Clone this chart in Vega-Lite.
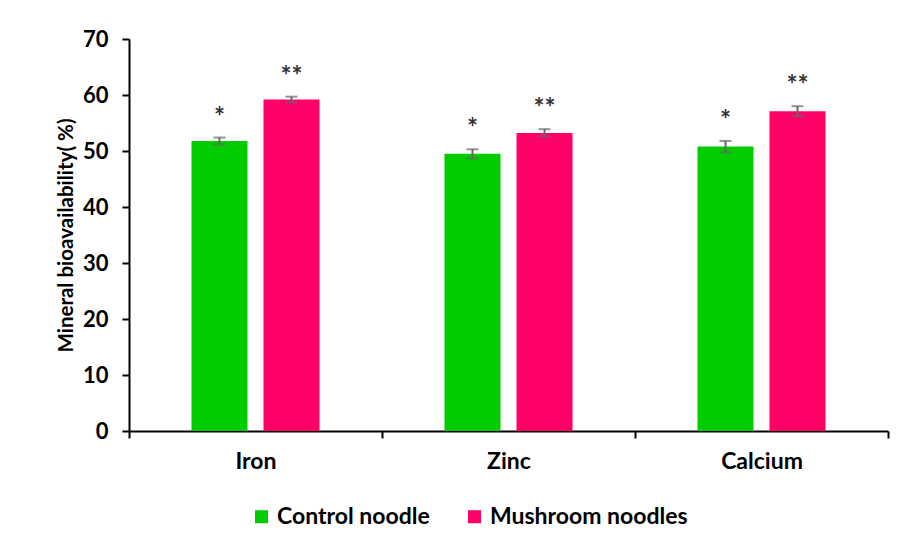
{
  "$schema": "https://vega.github.io/schema/vega-lite/v6.json",
  "width": 759,
  "height": 392,
  "autosize": {"type": "none"},
  "padding": {"left": 129, "top": 39, "right": 13, "bottom": 117},
  "background": "white",
  "config": {
    "font": "Lato",
    "view": {"stroke": null}
  },
  "data": {
    "values": [
      {"mineral": "Iron", "group": "Control noodle", "value": 51.8, "lo": 51.2, "hi": 52.4, "label": "*"},
      {"mineral": "Iron", "group": "Mushroom noodles", "value": 59.2, "lo": 58.7, "hi": 59.7, "label": "**"},
      {"mineral": "Zinc", "group": "Control noodle", "value": 49.5, "lo": 48.7, "hi": 50.3, "label": "*"},
      {"mineral": "Zinc", "group": "Mushroom noodles", "value": 53.2, "lo": 52.6, "hi": 53.9, "label": "**"},
      {"mineral": "Calcium", "group": "Control noodle", "value": 50.8, "lo": 49.8, "hi": 51.8, "label": "*"},
      {"mineral": "Calcium", "group": "Mushroom noodles", "value": 57.1, "lo": 56.2, "hi": 58.0, "label": "**"}
    ]
  },
  "encoding": {
    "x": {
      "field": "mineral",
      "type": "nominal",
      "sort": ["Iron", "Zinc", "Calcium"],
      "scale": {"paddingInner": 0, "paddingOuter": 0},
      "axis": {
        "title": null,
        "labelAngle": 0,
        "labelFont": "Lato",
        "labelFontSize": 23,
        "labelFontWeight": "bold",
        "labelColor": "black",
        "labelPadding": 12,
        "tickBand": "extent",
        "tickSize": 7,
        "tickWidth": 2,
        "tickColor": "black",
        "domainColor": "black",
        "domainWidth": 2
      }
    },
    "xOffset": {
      "field": "group",
      "type": "nominal",
      "sort": ["Control noodle", "Mushroom noodles"],
      "scale": {"paddingInner": 0.222, "paddingOuter": 0.868}
    }
  },
  "layer": [
    {
      "mark": {"type": "bar"},
      "encoding": {
        "y": {
          "field": "value",
          "type": "quantitative",
          "scale": {"domain": [0, 70]},
          "axis": {
            "title": "Mineral bioavailability( %)",
            "titleFont": "Lato",
            "titleFontSize": 20.5,
            "titleFontWeight": "bold",
            "titleColor": "black",
            "titlePadding": 6,
            "values": [0, 10, 20, 30, 40, 50, 60, 70],
            "grid": false,
            "labelFont": "Lato",
            "labelFontSize": 22,
            "labelFontWeight": "bold",
            "labelColor": "black",
            "labelPadding": 14,
            "tickSize": 7,
            "tickWidth": 2,
            "tickColor": "black",
            "domainColor": "black",
            "domainWidth": 2
          }
        },
        "color": {
          "field": "group",
          "type": "nominal",
          "sort": ["Control noodle", "Mushroom noodles"],
          "scale": {"domain": ["Control noodle", "Mushroom noodles"], "range": ["#00CC00", "#FF0066"]},
          "legend": {
            "title": null,
            "orient": "none",
            "direction": "horizontal",
            "legendX": 121,
            "legendY": 466,
            "symbolType": "square",
            "symbolSize": 169,
            "symbolStrokeWidth": 0,
            "symbolOpacity": 1,
            "labelFont": "Lato",
            "labelFontSize": 23,
            "labelFontWeight": "bold",
            "labelColor": "black",
            "labelOffset": 4,
            "labelLimit": 400,
            "columnPadding": 33
          }
        }
      }
    },
    {
      "mark": {"type": "rule", "color": "#666666", "strokeWidth": 2},
      "encoding": {
        "y": {"field": "lo", "type": "quantitative"},
        "y2": {"field": "hi"}
      }
    },
    {
      "mark": {"type": "tick", "color": "#666666", "thickness": 2, "size": 12},
      "encoding": {
        "y": {"field": "lo", "type": "quantitative"}
      }
    },
    {
      "mark": {"type": "tick", "color": "#666666", "thickness": 2, "size": 12},
      "encoding": {
        "y": {"field": "hi", "type": "quantitative"}
      }
    },
    {
      "mark": {"type": "text", "font": "Lato", "fontSize": 26, "fontWeight": "bold", "color": "#333333", "baseline": "alphabetic", "dy": -12},
      "encoding": {
        "y": {"field": "hi", "type": "quantitative"},
        "text": {"field": "label"}
      }
    }
  ]
}
